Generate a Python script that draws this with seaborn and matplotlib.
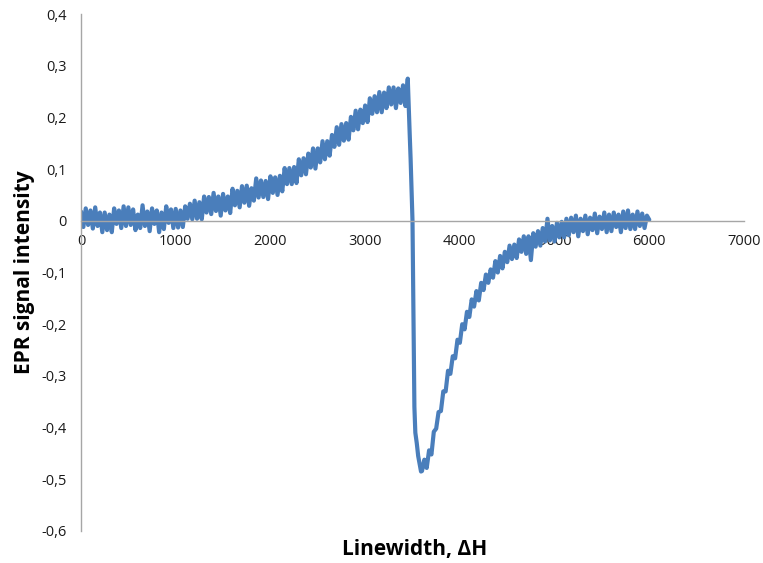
import numpy as np
import pandas as pd
import matplotlib
matplotlib.use("Agg")
import matplotlib.pyplot as plt
from matplotlib.ticker import FuncFormatter, MultipleLocator
import seaborn as sns

# ---- data ----
field_rise = list(range(0, 3451, 25))
signal_rise = [
    0.018, -0.012, 0.024, -0.008, 0.020, -0.015, 0.026, -0.010, 0.016, -0.022,
    0.016, -0.018, 0.012, -0.022, 0.024, -0.006, 0.020, -0.014, 0.028, -0.010,
    0.026, -0.008, 0.022, -0.018, 0.012, -0.014, 0.030, -0.010, 0.018, -0.020,
    0.024, -0.006, 0.020, -0.022, 0.016, -0.016, 0.028, -0.004, 0.022, -0.014,
    0.023, -0.013, 0.020, -0.012, 0.028, 0.004, 0.033, 0.003, 0.039, 0.004,
    0.036, 0.003, 0.047, 0.016, 0.046, 0.013, 0.054, 0.019, 0.047, 0.010,
    0.052, 0.020, 0.047, 0.015, 0.062, 0.030, 0.058, 0.026, 0.067, 0.035,
    0.068, 0.029, 0.063, 0.039, 0.082, 0.045, 0.078, 0.046, 0.077, 0.042,
    0.086, 0.054, 0.084, 0.050, 0.087, 0.057, 0.102, 0.071, 0.102, 0.071,
    0.104, 0.073, 0.119, 0.088, 0.121, 0.090, 0.130, 0.103, 0.140, 0.101,
    0.140, 0.113, 0.154, 0.119, 0.154, 0.126, 0.166, 0.143, 0.181, 0.147,
    0.187, 0.155, 0.189, 0.157, 0.201, 0.175, 0.213, 0.177, 0.215, 0.189,
    0.223, 0.191, 0.237, 0.207, 0.241, 0.210, 0.249, 0.210, 0.248, 0.218,
    0.258, 0.225, 0.258, 0.218, 0.256, 0.228, 0.262, 0.222, 0.275,
]
field_drop = [3460, 3470, 3480, 3490, 3500, 3510, 3520, 3530, 3545, 3560, 3575, 3590]
signal_drop = [0.220, 0.170, 0.120, 0.060, 0.000, -0.180, -0.360, -0.410, -0.430,
               -0.455, -0.470, -0.485]
field_recovery = list(range(3600, 6001, 25))
signal_recovery = [
    -0.484, -0.462, -0.478, -0.444, -0.452, -0.408, -0.402, -0.370, -0.368, -0.330,
    -0.330, -0.290, -0.296, -0.262, -0.266, -0.230, -0.236, -0.200, -0.210, -0.176,
    -0.186, -0.152, -0.166, -0.136, -0.154, -0.120, -0.134, -0.104, -0.120, -0.094,
    -0.110, -0.078, -0.100, -0.068, -0.092, -0.060, -0.080, -0.048, -0.074, -0.046,
    -0.072, -0.036, -0.060, -0.030, -0.064, -0.030, -0.076, -0.024, -0.050, -0.020,
    -0.048, -0.014, -0.040, 0.004, -0.038, -0.010, -0.040, -0.004, -0.032, -0.002,
    -0.032, 0.004, -0.028, 0.006, -0.022, 0.010, -0.030, 0.004, -0.020, 0.010,
    -0.026, 0.006, -0.018, 0.014, -0.024, 0.008, -0.016, 0.016, -0.022, 0.012,
    -0.020, 0.016, -0.012, 0.012, -0.022, 0.018, -0.014, 0.020, -0.016, 0.012,
    -0.016, 0.018, -0.010, 0.014, -0.014, 0.010, 0.002,
]

x_label = "Linewidth, \u0394H"
y_label = "EPR signal intensity"

df = pd.DataFrame({
    "field": field_rise + field_drop + field_recovery,
    "signal": signal_rise + signal_drop + signal_recovery,
})

sns.set_style("white")
plt.rcParams["font.family"] = ["Open Sans", "DejaVu Sans"]

fig = plt.figure(figsize=(7.63, 5.63), dpi=100)
ax = fig.add_axes([81 / 763, 1 - 531 / 563, (744 - 81) / 763, (531 - 14) / 563])

sns.lineplot(data=df, x="field", y="signal", ax=ax, sort=False, estimator=None,
             color="#4a7ebb", linewidth=3.0)

ax.set_xlim(0, 7000)
ax.set_ylim(-0.6, 0.4)
ax.xaxis.set_major_locator(MultipleLocator(1000))
ax.yaxis.set_major_locator(MultipleLocator(0.1))

def yfmt(v, pos):
    if abs(v) < 1e-9:
        return "0"
    return f"{v:.1f}".replace(".", ",")

ax.yaxis.set_major_formatter(FuncFormatter(yfmt))
ax.xaxis.set_major_formatter(FuncFormatter(lambda v, p: f"{int(round(v))}"))

grey = "#a6a6a6"
for s in ["top", "right"]:
    ax.spines[s].set_visible(False)
ax.spines["bottom"].set_position(("data", 0))
ax.spines["left"].set_position(("data", 0))
for s in ["bottom", "left"]:
    ax.spines[s].set_color(grey)
    ax.spines[s].set_linewidth(1.0)
ax.tick_params(axis="both", which="major", length=4, width=1.0, color=grey,
               labelsize=10.5, labelcolor="#1a1a1a", direction="out")
ax.tick_params(axis="x", pad=5.5)
ax.tick_params(axis="y", pad=6.5)
ax.set_facecolor("white")

ax.set_xlabel("")
ax.set_ylabel("")
fig.text(415 / 763, 1 - 550 / 563, x_label, ha="center", va="center",
         fontsize=15, fontweight="bold", color="#000000")
fig.text(25 / 763, 1 - 272 / 563, y_label, ha="center", va="center",
         rotation=90, fontsize=15, fontweight="bold", color="#000000")

fig.savefig("out.png", dpi=100, facecolor="white")
